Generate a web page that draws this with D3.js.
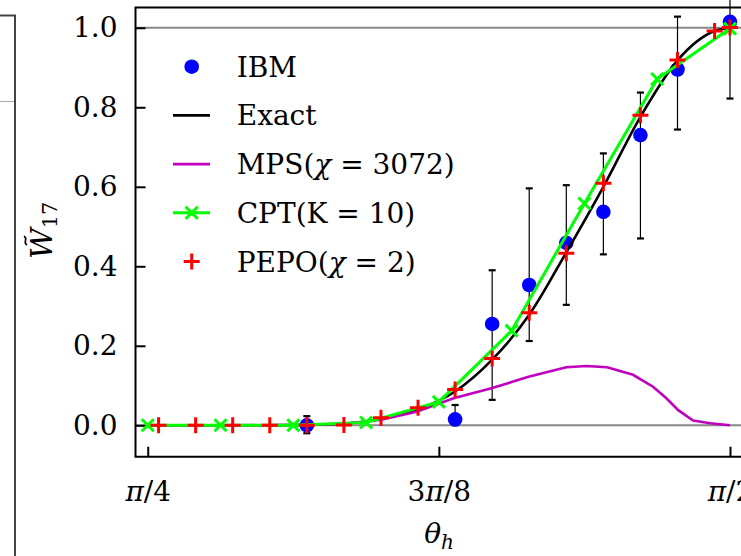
<!DOCTYPE html>
<html>
<head>
<meta charset="utf-8">
<script src="https://cdn.jsdelivr.net/npm/d3@7"></script>
<style>
  body { margin: 0; background: #fff; }
  svg { display: block; }
  text { font-family: "DejaVu Serif", "Liberation Serif", serif; fill: #000; }
</style>
</head>
<body>
<div id="chart"></div>
<script>
// theta values in radians
const PI = Math.PI;

// IBM hardware points with asymmetric error bars
const ibmTheta = [1.0, 1.2, 1.25, 1.3, 1.35, 1.4, 1.45, 1.5, PI / 2];
const ibmValue = [0.0, 0.015, 0.255, 0.353, 0.459, 0.537, 0.730, 0.895, 1.015];
const ibmLow   = [-0.02, 0.0, 0.064, 0.212, 0.303, 0.430, 0.470, 0.744, 0.822];
const ibmHigh  = [0.023, 0.051, 0.390, 0.596, 0.604, 0.684, 0.837, 1.028, 1.21];

// exact curve
const exactTheta = [PI / 4, 0.85, 0.9, 0.95, 1.0, 1.05, 1.1, 1.15, 1.2, 1.25, 1.3, 1.35, 1.4, 1.45, 1.5, 1.55, PI / 2];
const exactValue = [0, 0, 0, 0, 0.001, 0.004, 0.016, 0.040, 0.085, 0.165, 0.278, 0.435, 0.600, 0.776, 0.918, 0.992, 1.0];

// MPS chi = 3072
const mpsTheta = [PI / 4, 0.9, 1.0, 1.05, 1.1, 1.148, 1.198, 1.249, 1.299, 1.35, 1.377, 1.405, 1.44, 1.467, 1.485, 1.501, 1.521, 1.544, PI / 2];
const mpsValue = [0, 0, 0.001, 0.004, 0.014, 0.034, 0.068, 0.093, 0.122, 0.146, 0.149, 0.146, 0.127, 0.097, 0.068, 0.038, 0.012, 0.005, 0.0];

// CPT K = 10
const cptTheta = [PI / 4, 9 * PI / 32, 5 * PI / 16, 11 * PI / 32, 3 * PI / 8, 13 * PI / 32, 7 * PI / 16, 15 * PI / 32, PI / 2];
const cptValue = [0, 0, 0, 0.007, 0.059, 0.238, 0.558, 0.871, 0.998];

// PEPO chi = 2
const pepoTheta = [0.8, 0.85, 0.9, 0.95, 1.0, 1.05, 1.1, 1.15, 1.2, 1.25, 1.3, 1.35, 1.4, 1.45, 1.5, 1.55, PI / 2];
const pepoValue = [0, 0, 0, 0, 0, 0.001, 0.019, 0.044, 0.090, 0.168, 0.283, 0.433, 0.609, 0.780, 0.919, 0.992, 1.001];

const yTicks = [0, 0.2, 0.4, 0.6, 0.8, 1.0];
const xTicks = [PI / 4, 3 * PI / 8, PI / 2];
const xTickLabels = [["π", "/4"], ["3", "π", "/8"], ["π", "/2"]];

const width = 741, height = 556;
const mLeft = 135.5, mRight = 742, mTop = 7.5, mBottom = 456.7;
const fontSize = "28px";

const svg = d3.select("#chart").append("svg")
    .attr("width", width)
    .attr("height", height);

// bits of the neighbouring panel on the left edge
svg.append("line").attr("x1", 15).attr("x2", 15).attr("y1", 15).attr("y2", height)
    .attr("stroke", "#444").attr("stroke-width", 2);
svg.append("line").attr("x1", 0).attr("x2", 16).attr("y1", 15.5).attr("y2", 15.5)
    .attr("stroke", "#444").attr("stroke-width", 2);
svg.append("line").attr("x1", 0).attr("x2", 14).attr("y1", 101.5).attr("y2", 101.5)
    .attr("stroke", "#aaa").attr("stroke-width", 1);

const x = d3.scaleLinear().domain([0.7689, 1.5870]).range([mLeft, mRight]);
const y = d3.scaleLinear().domain([-0.079, 1.051]).range([mBottom, mTop]);

// reference lines at 0 and 1
svg.selectAll(".ref").data([0, 1]).enter().append("line")
    .attr("x1", mLeft).attr("x2", mRight)
    .attr("y1", d => y(d)).attr("y2", d => y(d))
    .attr("stroke", "#888").attr("stroke-width", 2);

// axes (ticks pointing inwards)
const yAxis = svg.append("g")
    .attr("transform", `translate(${mLeft},0)`)
    .call(d3.axisLeft(y).tickValues(yTicks).tickFormat(d3.format(".1f"))
        .tickSizeInner(-10).tickSizeOuter(0).tickPadding(18));
const xAxis = svg.append("g")
    .attr("transform", `translate(0,${mBottom})`)
    .call(d3.axisBottom(x).tickValues(xTicks).tickFormat("")
        .tickSizeInner(-10).tickSizeOuter(0));
[yAxis, xAxis].forEach(g => {
    g.select(".domain").remove();
    g.selectAll(".tick line").attr("stroke", "#000").attr("stroke-width", 2);
    g.selectAll(".tick text").style("font-size", fontSize).attr("fill", "#000");
});
xAxis.selectAll(".tick").each(function (d, i) {
    const t = d3.select(this).select("text").attr("dy", null).attr("y", 44);
    xTickLabels[i].forEach(part => {
        t.append("tspan").text(part).style("font-style", part === "π" ? "italic" : "normal");
    });
});

// frame
svg.append("path")
    .attr("d", `M${mRight},${mTop}H${mLeft}V${mBottom}H${mRight}`)
    .attr("fill", "none").attr("stroke", "#000").attr("stroke-width", 2);

// IBM error bars
const ibm = ibmTheta.map((t, i) => ({t, v: ibmValue[i], lo: ibmLow[i], hi: ibmHigh[i]}));
const eb = svg.append("g").attr("stroke", "#000");
eb.selectAll(".bar").data(ibm).enter().append("line")
    .attr("x1", d => x(d.t)).attr("x2", d => x(d.t))
    .attr("y1", d => y(d.lo)).attr("y2", d => y(d.hi))
    .attr("stroke-width", 1.2);
eb.selectAll(".caplo").data(ibm).enter().append("line")
    .attr("x1", d => x(d.t) - 3.5).attr("x2", d => x(d.t) + 3.5)
    .attr("y1", d => y(d.lo)).attr("y2", d => y(d.lo))
    .attr("stroke-width", 2.2);
eb.selectAll(".caphi").data(ibm).enter().append("line")
    .attr("x1", d => x(d.t) - 3.5).attr("x2", d => x(d.t) + 3.5)
    .attr("y1", d => y(d.hi)).attr("y2", d => y(d.hi))
    .attr("stroke-width", 2.2);
svg.append("g").selectAll("circle").data(ibm).enter().append("circle")
    .attr("cx", d => x(d.t)).attr("cy", d => y(d.v)).attr("r", 7.3)
    .attr("fill", "#0000ff");

// Exact
svg.append("path")
    .datum(d3.zip(exactTheta, exactValue))
    .attr("d", d3.line().x(d => x(d[0])).y(d => y(d[1])).curve(d3.curveMonotoneX))
    .attr("fill", "none").attr("stroke", "#000").attr("stroke-width", 2.6);

// MPS
svg.append("path")
    .datum(d3.zip(mpsTheta, mpsValue))
    .attr("d", d3.line().x(d => x(d[0])).y(d => y(d[1])))
    .attr("fill", "none").attr("stroke", "#bf00bf").attr("stroke-width", 2.6);

// CPT
svg.append("path")
    .datum(d3.zip(cptTheta, cptValue))
    .attr("d", d3.line().x(d => x(d[0])).y(d => y(d[1])))
    .attr("fill", "none").attr("stroke", "#00ff00").attr("stroke-width", 3);

function xMark(g, cx, cy, s, color) {
    g.append("path")
        .attr("d", `M${cx - s},${cy - s}L${cx + s},${cy + s}M${cx - s},${cy + s}L${cx + s},${cy - s}`)
        .attr("stroke", color).attr("stroke-width", 3).attr("fill", "none");
}
function plusMark(g, cx, cy, s, color) {
    g.append("path")
        .attr("d", `M${cx - s},${cy}H${cx + s}M${cx},${cy - s}V${cy + s}`)
        .attr("stroke", color).attr("stroke-width", 3).attr("fill", "none");
}
const cptG = svg.append("g");
cptTheta.forEach((t, i) => xMark(cptG, x(t), y(cptValue[i]), 6, "#00ff00"));
const pepoG = svg.append("g");
pepoTheta.forEach((t, i) => plusMark(pepoG, x(t), y(pepoValue[i]), 8, "#ff0000"));

// legend
const legendItems = [
    {label: [["IBM", "normal"]], kind: "dot"},
    {label: [["Exact", "normal"]], kind: "line", color: "#000"},
    {label: [["MPS(", "normal"], ["χ", "italic"], [" = 3072)", "normal"]], kind: "line", color: "#bf00bf"},
    {label: [["CPT(K = 10)", "normal"]], kind: "linex", color: "#00ff00"},
    {label: [["PEPO(", "normal"], ["χ", "italic"], [" = 2)", "normal"]], kind: "plus", color: "#ff0000"}
];
const lg = svg.append("g");
legendItems.forEach((it, i) => {
    const cy = 66.7 + i * 48.7;
    if (it.kind === "dot") {
        lg.append("circle").attr("cx", 191.7).attr("cy", cy).attr("r", 7.3).attr("fill", "#0000ff");
    } else if (it.kind === "plus") {
        plusMark(lg, 191.7, cy, 8, it.color);
    } else {
        lg.append("line").attr("x1", 173).attr("x2", 210).attr("y1", cy).attr("y2", cy)
            .attr("stroke", it.color).attr("stroke-width", it.kind === "linex" ? 3 : 2.6);
        if (it.kind === "linex") xMark(lg, 191.7, cy, 6, it.color);
    }
    const t = lg.append("text").attr("x", 236.7).attr("y", cy + 10).style("font-size", fontSize)
        .attr("xml:space", "preserve");
    it.label.forEach(p => t.append("tspan").text(p[0]).style("font-style", p[1]));
});

// axis labels
const xl = svg.append("text").attr("x", 439).attr("y", 543).attr("text-anchor", "middle").style("font-size", fontSize);
xl.append("tspan").text("θ").style("font-style", "italic");
xl.append("tspan").text("h").style("font-style", "italic").style("font-size", "20px").attr("dy", 6);

// y label: W with tilde and subscript 17, rotated
const yl = svg.append("g").attr("transform", `translate(52,${(mTop + mBottom) / 2}) rotate(-90)`);
const ylt = yl.append("text").attr("x", -27).style("font-size", "30px");
ylt.append("tspan").text("W").style("font-style", "italic");
ylt.append("tspan").text("17").style("font-size", "21px").attr("dy", 5);
yl.append("path")
    .attr("d", "M-13,-25 C-10,-30 -7,-23 -4,-28")
    .attr("fill", "none").attr("stroke", "#000").attr("stroke-width", 1.6);
</script>
</body>
</html>
